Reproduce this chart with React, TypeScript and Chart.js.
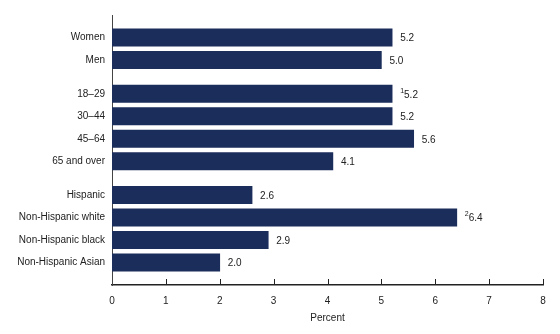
import React, { useEffect, useRef } from "react";
import { Chart, registerables } from "chart.js";

Chart.register(...registerables);

const groupLabels: string[][] = [
  ["Women", "Men"],
  ["18–29", "30–44", "45–64", "65 and over"],
  ["Hispanic", "Non-Hispanic white", "Non-Hispanic black", "Non-Hispanic Asian"],
];
const groupValues: number[][] = [
  [5.2, 5.0],
  [5.2, 5.2, 5.6, 4.1],
  [2.6, 6.4, 2.9, 2.0],
];
const groupNotes: string[][] = [
  ["", ""],
  ["1", "", "", ""],
  ["", "2", "", ""],
];
const xTicks = [0, 1, 2, 3, 4, 5, 6, 7, 8];
const xTitle = "Percent";

const BAR_COLOR = "#1b2d5b";
const FONT = "'Liberation Sans', Arial, Helvetica, sans-serif";

function buildSlots() {
  const labels: string[] = [];
  const values: (number | null)[] = [];
  const notes: string[] = [];
  const pushSpacer = () => {
    labels.push("");
    values.push(null);
    notes.push("");
  };
  pushSpacer();
  pushSpacer();
  groupLabels.forEach((g, gi) => {
    if (gi > 0) {
      pushSpacer();
      pushSpacer();
    }
    g.forEach((lab, i) => {
      if (i > 0) pushSpacer();
      labels.push(lab);
      values.push(groupValues[gi][i]);
      notes.push(groupNotes[gi][i]);
    });
  });
  pushSpacer();
  pushSpacer();
  return { labels, values, notes };
}

export default function App() {
  const ref = useRef<HTMLCanvasElement | null>(null);
  useEffect(() => {
    document.body.style.margin = "0";
    const { labels, values, notes } = buildSlots();
    const valueLabels = {
      id: "valueLabels",
      afterDatasetsDraw(chart: any) {
        const ctx = chart.ctx;
        const meta = chart.getDatasetMeta(0);
        ctx.save();
        ctx.textBaseline = "middle";
        ctx.fillStyle = "#222";
        meta.data.forEach((el: any, i: number) => {
          const v = values[i];
          if (v == null) return;
          let x = el.x + 8;
          const y = el.y + 1;
          if (notes[i]) {
            ctx.font = `7px ${FONT}`;
            ctx.fillText(notes[i], x, y - 4);
            x += ctx.measureText(notes[i]).width;
          }
          ctx.font = `10px ${FONT}`;
          ctx.fillText(v.toFixed(1), x, y);
        });
        ctx.restore();
      },
      afterDraw(chart: any) {
        const ctx = chart.ctx;
        const xs = chart.scales.x;
        const bottom = chart.chartArea.bottom;
        ctx.save();
        ctx.strokeStyle = "#222";
        ctx.lineWidth = 1;
        xTicks.forEach((t) => {
          if (t === 0) return;
          const px = Math.round(xs.getPixelForValue(t)) + 0.5;
          ctx.beginPath();
          ctx.moveTo(px, bottom);
          ctx.lineTo(px, bottom - 6);
          ctx.stroke();
        });
        ctx.restore();
      },
    };
    const chart = new Chart(ref.current!, {
      type: "bar",
      data: {
        labels,
        datasets: [
          {
            data: values as any,
            backgroundColor: BAR_COLOR,
            borderWidth: 0,
            barThickness: 17.5,
          },
        ],
      },
      options: {
        indexAxis: "y",
        animation: false,
        responsive: false,
        maintainAspectRatio: false,
        layout: { padding: { top: 15, right: 17, left: 0, bottom: 10 } },
        plugins: { legend: { display: false }, tooltip: { enabled: false } },
        scales: {
          x: {
            type: "linear",
            min: 0,
            max: 8,
            afterBuildTicks: (s: any) => {
              s.ticks = xTicks.map((v) => ({ value: v }));
            },
            afterFit: (s: any) => {
              s.height = 39;
            },
            grid: { display: false, drawTicks: false },
            border: { display: true, color: "#222", width: 1.5 },
            ticks: {
              padding: 10,
              color: "#222",
              font: { family: FONT, size: 10 },
            },
            title: {
              display: true,
              text: xTitle,
              color: "#222",
              font: { family: FONT, size: 10 },
              padding: { top: 2, bottom: 0 },
            },
          },
          y: {
            type: "category",
            offset: false,
            afterFit: (s: any) => {
              s.width = 112;
            },
            grid: { display: false, drawTicks: false },
            border: { display: true, color: "#444", width: 1 },
            ticks: {
              autoSkip: false,
              padding: 7,
              color: "#222",
              font: { family: FONT, size: 10 },
            },
          },
        },
      },
      plugins: [valueLabels],
    });
    return () => chart.destroy();
  }, []);
  return (
    <div style={{ width: 560, height: 334 }}>
      <canvas ref={ref} width={560} height={334} style={{ width: 560, height: 334, display: "block" }} />
    </div>
  );
}
